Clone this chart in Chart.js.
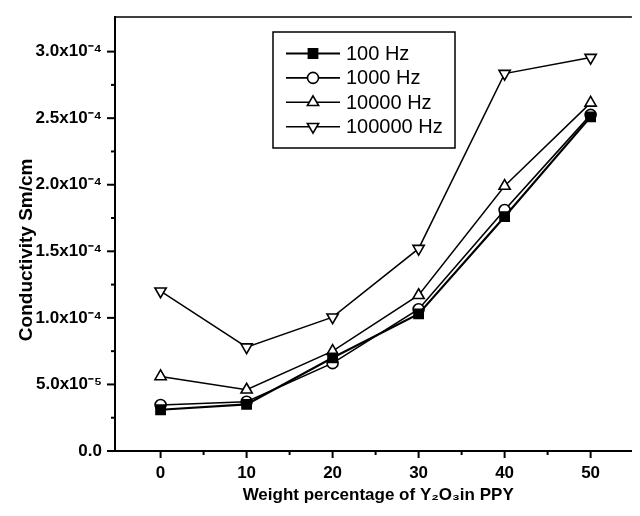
<!DOCTYPE html>
<html><head><meta charset="utf-8">
<script src="https://cdn.jsdelivr.net/npm/chart.js@4"></script>
<style>html,body{margin:0;padding:0;background:#fff}</style>
</head><body>
<canvas id="c" width="640" height="516"></canvas>
<script>
const categories = [0, 10, 20, 30, 40, 50];
const hz100    = [3.1e-5, 3.5e-5, 7.0e-5, 1.03e-4, 1.76e-4, 2.51e-4];
const hz1000   = [3.45e-5, 3.7e-5, 6.6e-5, 1.065e-4, 1.81e-4, 2.525e-4];
const hz10000  = [5.6e-5, 4.6e-5, 7.5e-5, 1.17e-4, 1.99e-4, 2.615e-4];
const hz100000 = [1.2e-4, 7.8e-5, 1.005e-4, 1.52e-4, 2.835e-4, 2.955e-4];
const seriesNames = ['100 Hz', '1000 Hz', '10000 Hz', '100000 Hz'];
const xTicks = [0, 10, 20, 30, 40, 50];
const xTickLabels = ['0', '10', '20', '30', '40', '50'];
const xMinorTicks = [5, 15, 25, 35, 45];
const yTicks = [0, 0.5e-4, 1.0e-4, 1.5e-4, 2.0e-4, 2.5e-4, 3.0e-4];
const yTickLabels = ['0.0', '5.0x10\u207B\u2075', '1.0x10\u207B\u2074', '1.5x10\u207B\u2074', '2.0x10\u207B\u2074', '2.5x10\u207B\u2074', '3.0x10\u207B\u2074'];
const yMinorTicks = [0.25e-4, 0.75e-4, 1.25e-4, 1.75e-4, 2.25e-4, 2.75e-4];
const xTitle = '  Weight percentage of Y\u2082O\u2083in PPY';
const yTitle = 'Conductivity Sm/cm      ';

const FONT = '"Liberation Sans", Arial, Helvetica, sans-serif';

function mk(vals) { return categories.map((x, i) => ({x: x, y: vals[i]})); }

const styles = [
  {pointStyle: 'rect', radius: 6.5, rotation: 0, bg: '#000', lw: 2.2},
  {pointStyle: 'circle', radius: 5.5, rotation: 0, bg: '#fff', lw: 1.6},
  {pointStyle: 'triangle', radius: 6.5, rotation: 0, bg: '#fff', lw: 1.5},
  {pointStyle: 'triangle', radius: 6.5, rotation: 180, bg: '#fff', lw: 1.5}
];
const allVals = [hz100, hz1000, hz10000, hz100000];

const datasets = allVals.map((v, i) => ({
  label: seriesNames[i],
  data: mk(v),
  borderColor: '#000',
  borderWidth: styles[i].lw,
  backgroundColor: styles[i].bg,
  pointStyle: styles[i].pointStyle,
  pointRotation: styles[i].rotation,
  pointRadius: styles[i].radius,
  pointBackgroundColor: styles[i].bg,
  pointBorderColor: '#000',
  pointBorderWidth: 1.6,
  tension: 0,
  fill: false
}));

const framePlugin = {
  id: 'frame',
  afterDraw(chart) {
    const ctx = chart.ctx;
    const a = chart.chartArea;
    const xs = chart.scales.x, ys = chart.scales.y;
    ctx.save();
    ctx.strokeStyle = '#000';
    // top frame line
    ctx.lineWidth = 1.5;
    ctx.beginPath(); ctx.moveTo(a.left, a.top); ctx.lineTo(a.right, a.top); ctx.stroke();
    // tick marks
    ctx.lineWidth = 2;
    const tx = (v, len) => { const p = xs.getPixelForValue(v); ctx.beginPath(); ctx.moveTo(p, a.bottom); ctx.lineTo(p, a.bottom + len); ctx.stroke(); };
    const ty = (v, len) => { const p = ys.getPixelForValue(v); ctx.beginPath(); ctx.moveTo(a.left, p); ctx.lineTo(a.left - len, p); ctx.stroke(); };
    xTicks.forEach(v => tx(v, 7));
    xMinorTicks.forEach(v => tx(v, 4));
    yTicks.forEach(v => ty(v, 8));
    yMinorTicks.forEach(v => ty(v, 4));
    // legend
    const bx = a.left + 158, by = a.top + 15, bw = 182, bh = 116;
    ctx.lineWidth = 1.5;
    ctx.fillStyle = '#fff';
    ctx.fillRect(bx, by, bw, bh);
    ctx.strokeRect(bx, by, bw, bh);
    chart.data.datasets.forEach((ds, i) => {
      const ry = by + 21.5 + i * 24.4;
      const x1 = bx + 13, x2 = bx + 67, xm = (x1 + x2) / 2;
      ctx.lineWidth = ds.borderWidth;
      ctx.strokeStyle = '#000';
      ctx.beginPath(); ctx.moveTo(x1, ry); ctx.lineTo(x2, ry); ctx.stroke();
      ctx.fillStyle = ds.pointBackgroundColor;
      ctx.lineWidth = ds.pointBorderWidth;
      Chart.helpers.drawPoint(ctx, {pointStyle: ds.pointStyle, rotation: ds.pointRotation, radius: ds.pointRadius, borderWidth: ds.pointBorderWidth}, xm, ry);
      ctx.fillStyle = '#000';
      ctx.font = '20px ' + FONT;
      ctx.textAlign = 'left';
      ctx.textBaseline = 'middle';
      ctx.fillText(ds.label, bx + 73, ry + 1);
    });
    ctx.restore();
  }
};

new Chart(document.getElementById('c'), {
  type: 'line',
  data: {datasets: datasets},
  options: {
    responsive: false,
    animation: false,
    devicePixelRatio: 1,
    layout: {padding: {top: 17, right: 0, left: 0, bottom: 0}},
    plugins: {legend: {display: false}, tooltip: {enabled: false}},
    scales: {
      x: {
        type: 'linear', min: -5.3, max: 54.8,
        afterBuildTicks: s => { s.ticks = xTicks.map(v => ({value: v})); },
        afterFit: s => { s.height = 65; s.paddingLeft = 0; s.paddingRight = 0; },
        grid: {display: false, drawTicks: false},
        border: {display: true, color: '#000', width: 2},
        ticks: {padding: 12, color: '#000', autoSkip: false, maxRotation: 0,
          font: {family: FONT, size: 17, weight: 'bold'},
          callback: (v, i) => xTickLabels[i]},
        title: {display: true, text: xTitle, color: '#000',
          font: {family: FONT, size: 17, weight: 'bold'}, padding: {top: 0, bottom: 10}}
      },
      y: {
        type: 'linear', min: 0, max: 3.26e-4,
        afterBuildTicks: s => { s.ticks = yTicks.map(v => ({value: v})); },
        afterFit: s => { s.width = 115; s.paddingTop = 0; s.paddingBottom = 0; },
        grid: {display: false, drawTicks: false},
        border: {display: true, color: '#000', width: 2},
        ticks: {padding: 13, color: '#000', autoSkip: false,
          font: {family: FONT, size: 17, weight: 'bold'},
          callback: (v, i) => yTickLabels[i]},
        title: {display: true, text: yTitle, color: '#000',
          font: {family: FONT, size: 19, weight: 'bold'}, padding: {top: 15, bottom: 0}}
      }
    }
  },
  plugins: [framePlugin]
});
</script>
</body></html>
